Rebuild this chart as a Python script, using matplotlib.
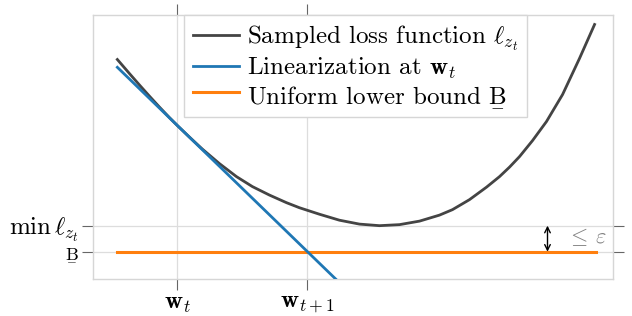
import matplotlib
matplotlib.use('Agg')
from matplotlib import pyplot as plt
import numpy as np

plt.rcParams['font.family'] = 'serif'
plt.rcParams['font.serif'] = ['cmr10']
plt.rcParams['mathtext.fontset'] = 'cm'
plt.rcParams['axes.formatter.use_mathtext'] = True

# values (x: w_t = 1, w_{t+1} = 2; y: B = 0)
loss_x = [0.538, 0.631, 0.708, 0.785, 0.862, 0.938, 1.0, 1.092, 1.192, 1.323,
          1.454, 1.577, 1.708, 1.838, 1.938, 2.092, 2.246, 2.4, 2.554, 2.708,
          2.862, 3.015, 3.115, 3.246, 3.377, 3.477, 3.554, 3.631, 3.731, 3.838,
          3.962, 4.092, 4.208]
loss_y = [1.477, 1.369, 1.281, 1.195, 1.111, 1.031, 0.969, 0.881, 0.788, 0.677,
          0.577, 0.5, 0.435, 0.377, 0.338, 0.288, 0.242, 0.212, 0.2, 0.208,
          0.235, 0.281, 0.323, 0.4, 0.496, 0.577, 0.65, 0.731, 0.854, 1.0,
          1.208, 1.485, 1.746]
lin_x = [0.538, 2.25]
lin_y = [1.417, -0.242]
bound_x = [0.538, 4.222]
bound_y = [0.0, 0.0]
min_loss = 0.2
eps_x = 3.846

xticks = [1, 2]
xtick_labels = [r'$\mathbf{w}_t$', r'$\mathbf{w}_{t+1}$']
yticks = [0.0, min_loss]
ytick_labels = [r'$\underset{-}{\mathrm{B}}$', r'$\min\,\ell_{z_t}$']

fig = plt.figure(figsize=(6.32, 3.16), dpi=100)
ax = fig.add_axes([0.147, 0.117, 0.823, 0.836])

ax.plot(loss_x, loss_y, color='#444444', linewidth=2.0, label=r'Sampled loss function $\ell_{z_t}$', zorder=3)
ax.plot(lin_x, lin_y, color='#1f77b4', linewidth=2.0, label=r'Linearization at $\mathbf{w}_t$', zorder=3)
ax.plot(bound_x, bound_y, color='#ff7f0e', linewidth=2.2, label=r'Uniform lower bound $\underset{-}{\mathrm{B}}$', zorder=2)

# gap between min loss and bound
ax.annotate('', xy=(eps_x, 0.0), xytext=(eps_x, min_loss),
            arrowprops=dict(arrowstyle='<->', color='black', lw=1.0, shrinkA=0, shrinkB=0))
ax.text(eps_x + 0.15, 0.11, r'$\leq\,\varepsilon$', color='#808080', fontsize=16, va='center', ha='left')

ax.set_xlim(0.35, 4.35)
ax.set_ylim(-0.21, 1.82)

ax.set_xticks(xticks)
ax.set_xticklabels(xtick_labels, fontsize=18)
ax.set_yticks(yticks)
ax.set_yticklabels(ytick_labels, fontsize=18)
ax.get_yticklabels()[0].set_fontsize(13)
ax.tick_params(axis='both', direction='out', length=8, width=0.8, color='#666666',
               top=True, right=True, pad=2)

ax.grid(True, color='#dddddd', linewidth=0.9)
ax.set_axisbelow(True)
for s in ax.spines.values():
    s.set_color('#d6d6d6')
    s.set_linewidth(1.0)

leg = ax.legend(loc='upper center', bbox_to_anchor=(0.505, 1.0), borderaxespad=0,
                fontsize=18, fancybox=False, framealpha=1, edgecolor='#d6d6d6',
                handlelength=1.85, handletextpad=0.3, labelspacing=0.1, borderpad=0.35)
leg.get_frame().set_linewidth(1.0)

fig.savefig('out.png', dpi=100)
